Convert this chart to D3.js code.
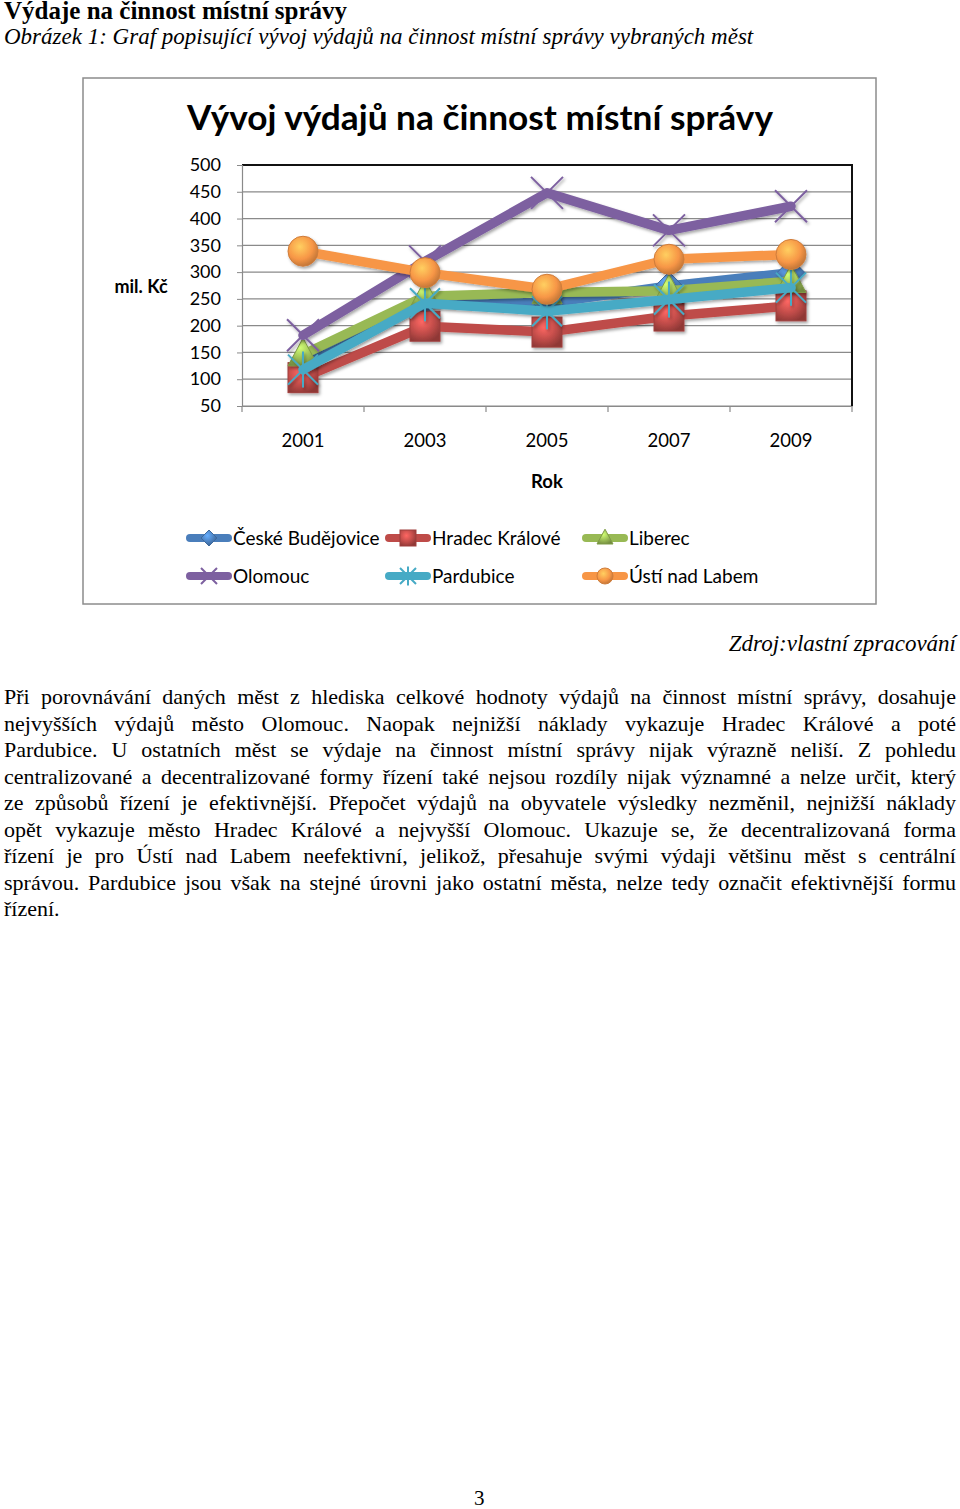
<!DOCTYPE html>
<html>
<head>
<meta charset="utf-8">
<script src="https://cdn.jsdelivr.net/npm/d3@7/dist/d3.min.js"></script>
<style>
  body { margin: 0; background: #fff; }
  #page { position: relative; width: 960px; height: 1509px; font-family: "Liberation Serif", "Times New Roman", serif; color: #000; }
  .abs { position: absolute; white-space: nowrap; }
  #para { position: absolute; left: 4px; top: 684px; width: 952px; font-size: 22px; line-height: 26.5px; }
  #para div { text-align: justify; text-align-last: justify; white-space: nowrap; }
  #para div.last { text-align-last: left; }
  svg { position: absolute; left: 0; top: 0; }
</style>
</head>
<body>
<div id="page">
  <div class="abs" style="left:4px;top:-3px;font-size:25px;font-weight:bold;">Výdaje na činnost místní správy</div>
  <div class="abs" style="left:4px;top:24px;font-size:23px;font-style:italic;">Obrázek 1: Graf popisující vývoj výdajů na činnost místní správy vybraných měst</div>
  <svg id="chart" width="960" height="620"></svg>
  <div class="abs" style="right:4px;top:631px;font-size:23px;font-style:italic;">Zdroj:vlastní zpracování</div>
  <div id="para"></div>
  <div class="abs" style="left:474px;top:1486px;font-size:21px;">3</div>
</div>
<script>
const years = ["2001", "2003", "2005", "2007", "2009"];
const yTicks = [50, 100, 150, 200, 250, 300, 350, 400, 450, 500];

const ceskeBudejovice = [130, 245, 242, 274, 299];
const hradecKralove = [103, 199, 188, 218, 237];
const liberec = [146, 255, 262, 265, 283];
const olomouc = [182, 320, 448, 378, 423];
const pardubice = [118, 242, 227, 249, 271];
const ustiNadLabem = [339, 299, 268, 324, 333];

const seriesNames = ["České Budějovice", "Hradec Králové", "Liberec", "Olomouc", "Pardubice", "Ústí nad Labem"];
const seriesValues = [ceskeBudejovice, hradecKralove, liberec, olomouc, pardubice, ustiNadLabem];
const seriesColors = ["#4a7ebb", "#be4b48", "#98b954", "#7d60a0", "#46aac5", "#f79646"];
const seriesMarkers = ["diamond", "square", "triangle", "x", "star", "circle"];

const paragraphLines = [
  "Při porovnávání daných měst z hlediska celkové hodnoty výdajů na činnost místní správy, dosahuje",
  "nejvyšších výdajů město Olomouc. Naopak nejnižší náklady vykazuje Hradec Králové a poté",
  "Pardubice. U ostatních měst se výdaje na činnost místní správy nijak výrazně neliší. Z pohledu",
  "centralizované a decentralizované formy řízení také nejsou rozdíly nijak významné a nelze určit, který",
  "ze způsobů řízení je efektivnější. Přepočet výdajů na obyvatele výsledky nezměnil, nejnižší náklady",
  "opět vykazuje město Hradec Králové a nejvyšší Olomouc. Ukazuje se, že decentralizovaná forma",
  "řízení je pro Ústí nad Labem neefektivní, jelikož, přesahuje svými výdaji většinu měst s centrální",
  "správou. Pardubice jsou však na stejné úrovni jako ostatní města, nelze tedy označit efektivnější formu",
  "řízení."
];

d3.select("#para").selectAll("div").data(paragraphLines).join("div")
  .classed("last", (d, i) => i === paragraphLines.length - 1)
  .text((d) => d);

const svg = d3.select("#chart");
const font = "Lato, 'Open Sans', sans-serif";

// outer chart frame
svg.append("rect").attr("x", 83).attr("y", 78).attr("width", 793).attr("height", 526)
  .attr("fill", "#fff").attr("stroke", "#8c8c8c").attr("stroke-width", 1.5);

svg.append("text").attr("x", 187).attr("y", 130)
  .attr("font-family", font).attr("font-weight", "bold").attr("font-size", 34)
  .attr("textLength", 586).attr("lengthAdjust", "spacingAndGlyphs")
  .text("Vývoj výdajů na činnost místní správy");

const x = d3.scaleBand().domain(years).range([242, 852]);
const y = d3.scaleLinear().domain([50, 500]).range([406, 165]);
const cx = (d) => x(d) + x.bandwidth() / 2;

// defs: gradients and shadow
const defs = svg.append("defs");
seriesColors.forEach((c, i) => {
  const g = defs.append("radialGradient").attr("id", "grad" + i)
    .attr("cx", "40%").attr("cy", "35%").attr("r", "70%");
  g.append("stop").attr("offset", "0%").attr("stop-color", d3.color(c).brighter(0.9));
  g.append("stop").attr("offset", "60%").attr("stop-color", c);
  g.append("stop").attr("offset", "100%").attr("stop-color", d3.color(c).darker(0.8));
});
const f = defs.append("filter").attr("id", "shadow").attr("x", "-20%").attr("y", "-20%").attr("width", "140%").attr("height", "140%");
f.append("feDropShadow").attr("dx", 1.5).attr("dy", 2).attr("stdDeviation", 1.5).attr("flood-opacity", 0.35);

// gridlines
svg.append("g").selectAll("line").data(yTicks).join("line")
  .attr("x1", 242).attr("x2", 852).attr("y1", (d) => y(d)).attr("y2", (d) => y(d))
  .attr("stroke", "#8a8a8a").attr("stroke-width", 1.2);

// plot border top/right
svg.append("path").attr("d", `M242,${y(500)}H852V${y(50)}`)
  .attr("fill", "none").attr("stroke", "#111").attr("stroke-width", 2);

// y axis
const yAxis = svg.append("g").attr("transform", "translate(242,0)")
  .call(d3.axisLeft(y).tickValues(yTicks).tickSize(5).tickPadding(16));
yAxis.select(".domain").attr("stroke", "#8a8a8a").attr("stroke-width", 1.2);
yAxis.selectAll(".tick line").attr("stroke", "#8a8a8a");
yAxis.selectAll("text").attr("font-family", font).attr("font-size", 18).attr("fill", "#000");

// x axis
const xAxis = svg.append("g").attr("transform", `translate(0,${y(50)})`)
  .call(d3.axisBottom(x).tickSize(0).tickPadding(28));
xAxis.select(".domain").attr("stroke", "#8a8a8a").attr("stroke-width", 1.2);
xAxis.selectAll("text").attr("font-family", font).attr("font-size", 18.5).attr("fill", "#000");
svg.append("g").selectAll("line").data(years.concat(["end"])).join("line")
  .attr("x1", (d, i) => 242 + i * x.bandwidth()).attr("x2", (d, i) => 242 + i * x.bandwidth())
  .attr("y1", y(50)).attr("y2", y(50) + 6).attr("stroke", "#8a8a8a").attr("stroke-width", 1.2);

svg.append("text").attr("x", 141).attr("y", 293).attr("text-anchor", "middle")
  .attr("font-family", font).attr("font-weight", "bold").attr("font-size", 18).text("mil. Kč");
svg.append("text").attr("x", 547).attr("y", 488).attr("text-anchor", "middle")
  .attr("font-family", font).attr("font-weight", "bold").attr("font-size", 18.5).text("Rok");

function drawMarker(g, type, i, s) {
  const c = seriesColors[i];
  const fill = `url(#grad${i})`;
  if (type === "diamond") {
    g.append("path").attr("d", `M0,${-s}L${s},0L0,${s}L${-s},0Z`).attr("fill", fill).attr("stroke", d3.color(c).darker(0.5)).attr("stroke-width", 1);
  } else if (type === "square") {
    g.append("rect").attr("x", -s).attr("y", -s).attr("width", 2 * s).attr("height", 2 * s)
      .attr("fill", fill).attr("stroke", d3.color(c).darker(0.5)).attr("stroke-width", 1);
  } else if (type === "triangle") {
    g.append("path").attr("d", `M0,${-s * 1.1}L${s},${s * 0.75}L${-s},${s * 0.75}Z`).attr("fill", fill).attr("stroke", d3.color(c).darker(0.5)).attr("stroke-width", 1);
  } else if (type === "circle") {
    g.append("circle").attr("r", s).attr("fill", fill).attr("stroke", d3.color(c).darker(0.5)).attr("stroke-width", 1);
  } else if (type === "x") {
    g.append("path").attr("d", `M${-s},${-s}L${s},${s}M${-s},${s}L${s},${-s}`).attr("stroke", c).attr("stroke-width", 2);
  } else if (type === "star") {
    g.append("path").attr("d", `M${-s},${-s}L${s},${s}M${-s},${s}L${s},${-s}M0,${-s * 1.2}V${s * 1.2}`).attr("stroke", c).attr("stroke-width", 2);
  }
}

const markerSize = [14, 15, 15, 16, 15, 15];
const line = d3.line().x((d, j) => cx(years[j])).y((d) => y(d));

seriesValues.forEach((vals, i) => {
  const g = svg.append("g").attr("filter", "url(#shadow)");
  g.append("path").datum(vals).attr("d", line).attr("fill", "none")
    .attr("stroke", seriesColors[i]).attr("stroke-width", 9.5).attr("stroke-linejoin", "round").attr("stroke-linecap", "round");
  vals.forEach((v, j) => {
    const m = g.append("g").attr("transform", `translate(${cx(years[j])},${y(v)})`);
    drawMarker(m, seriesMarkers[i], i, markerSize[i]);
  });
});

// legend
const legendPos = [[186, 538], [385, 538], [582, 538], [186, 576], [385, 576], [582, 576]];
seriesNames.forEach((name, i) => {
  const [lx, ly] = legendPos[i];
  const g = svg.append("g").attr("transform", `translate(${lx},${ly})`);
  g.append("line").attr("x1", 4).attr("x2", 42).attr("y1", 0).attr("y2", 0)
    .attr("stroke", seriesColors[i]).attr("stroke-width", 8).attr("stroke-linecap", "round");
  const m = g.append("g").attr("transform", "translate(23,0)");
  drawMarker(m, seriesMarkers[i], i, 8);
  g.append("text").attr("x", 47).attr("y", 6.5).attr("font-family", font).attr("font-size", 19).text(name);
});
</script>
</body>
</html>
